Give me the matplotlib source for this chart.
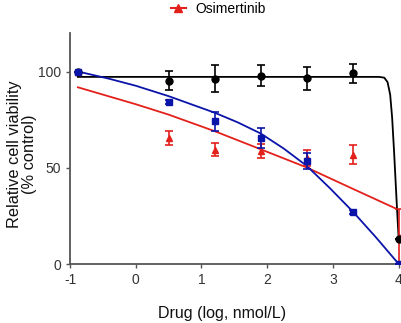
import matplotlib
matplotlib.use("Agg")
import matplotlib.pyplot as plt
from matplotlib.lines import Line2D

plt.rcParams['font.family'] = ['Liberation Sans', 'DejaVu Sans']
plt.rcParams['axes.unicode_minus'] = False

# measured points (log nmol/L, % control)
dose = [-0.88, 0.5, 1.2, 1.9, 2.6, 3.3, 4.0]
black_y = [100, 95.3, 96.2, 97.9, 96.5, 99.1, 12.8]
black_err = [0, 5, 7, 5.5, 6, 5, 0]
blue_y = [100, 84.2, 74.1, 65.5, 53.6, 27, 0]
blue_err = [0, 1, 5, 5, 4, 1, 0]
red_y = [100, 65.5, 59.4, 58.5, 55, 56.8, 14]
red_err = [0, 3.5, 3.5, 3.6, 4, 5, 14.5]

# fitted curves
black_fit_x = [-0.88, 3.7, 3.78, 3.83, 3.87, 3.9, 3.93, 3.96, 3.98, 4.0]
black_fit_y = [97.2, 97.2, 96.8, 94.5, 88, 76, 58, 38, 25, 12.8]
blue_fit_x = [-0.88, -0.4, 0.0, 0.5, 1.2, 1.55, 1.9, 2.25, 2.6, 2.95, 3.3, 3.65, 4.0]
blue_fit_y = [100, 96.2, 92.6, 87.2, 78.6, 73.6, 67.8, 60, 51, 39.5, 27.3, 14, 0]
red_fit_x = [-0.88, 0.0, 0.5, 1.2, 1.9, 2.59, 3.28, 3.97]
red_fit_y = [91.8, 83, 77.6, 69, 59.6, 50.3, 39.4, 28.6]

BLUE = '#0b14a8'
RED = '#e3201b'
GREY = '#555555'

fig = plt.figure(figsize=(4.01, 3.23), dpi=100)
ax = fig.add_axes([70 / 401, (323 - 264) / 323, 332 / 401, 231 / 323])

ax.plot(black_fit_x, black_fit_y, color='black', lw=1.3, zorder=3)
ax.plot(red_fit_x, red_fit_y, color=RED, lw=1.3, zorder=2)
ax.plot(blue_fit_x, blue_fit_y, color=BLUE, lw=1.3, zorder=4)

ax.errorbar(dose, red_y, yerr=red_err, fmt='^', color=RED, ms=5,
            capsize=3, elinewidth=1.2, capthick=1.2, zorder=5)
ax.errorbar(dose, black_y, yerr=black_err, fmt='o', color='black', ms=5,
            capsize=3, elinewidth=1.2, capthick=1.2, zorder=6)
ax.errorbar(dose, blue_y, yerr=blue_err, fmt='s', color=BLUE, ms=5,
            capsize=3, elinewidth=1.2, capthick=1.2, zorder=7)

ax.set_xlim(-1, 4.05)
ax.set_ylim(0, 120)
ax.set_xticks([-1, 0, 1, 2, 3, 4])
ax.set_yticks([0, 50, 100])
for side in ['top', 'right']:
    ax.spines[side].set_visible(False)
for side in ['left', 'bottom']:
    ax.spines[side].set_color(GREY)
    ax.spines[side].set_linewidth(1.3)
ax.tick_params(colors=GREY, labelcolor='#333333', labelsize=10, length=3, width=1)

ax.set_xlabel('Drug (log, nmol/L)', fontsize=11.5, color='#111111')
ax.xaxis.set_label_coords(0.458, -0.18)
ax.set_ylabel('Relative cell viability\n(% control)', fontsize=11.8,
              color='#111111', linespacing=1.0)
ax.yaxis.set_label_coords(-0.099, 0.476)

h = Line2D([], [], color=RED, marker='^', ms=6, lw=1.5)
fig.legend([h], ['Osimertinib'], loc='center', bbox_to_anchor=(0.545, 0.972),
           frameon=False, fontsize=10, handlelength=1.1, handletextpad=0.7)

fig.savefig('out.png', dpi=100)
